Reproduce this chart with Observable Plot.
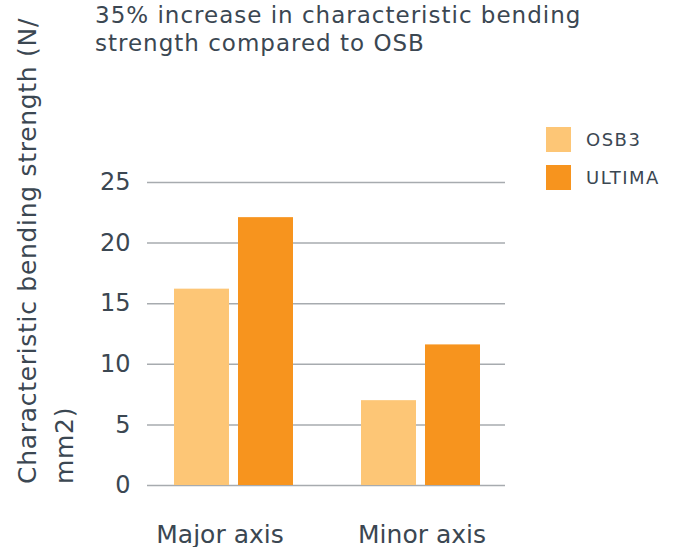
<!DOCTYPE html>
<html>
<head>
<meta charset="utf-8">
<script src="https://cdn.jsdelivr.net/npm/d3@7"></script>
<script src="https://cdn.jsdelivr.net/npm/@observablehq/plot@0.6"></script>
<style>
  html, body { margin: 0; padding: 0; background: #fff; }
  #wrap { position: relative; width: 677px; height: 547px; overflow: hidden; font-family: "DejaVu Sans", sans-serif; color: #3b4752; }
  #chart { position: absolute; left: 0; top: 0; }
  #title { position: absolute; left: 95px; top: 1px; font-size: 23px; letter-spacing: 1px; line-height: 28px; white-space: nowrap; }
  #ylabel { position: absolute; left: 9px; top: 484px; transform-origin: 0 0; transform: rotate(-90deg); font-size: 25px; letter-spacing: 0.7px; line-height: 37px; white-space: nowrap; }
  .leg { position: absolute; left: 546px; width: 25px; height: 25px; }
  .legt { position: absolute; left: 586px; font-size: 18px; letter-spacing: 1.5px; line-height: 25px; white-space: nowrap; }
</style>
</head>
<body>
<div id="wrap">
  <div id="chart"></div>
  <div id="title"></div>
  <div id="ylabel"></div>
  <div id="legend"></div>
</div>
<script>
const titleLines = ["35% increase in characteristic bending", "strength compared to OSB"];
const yLabelLines = ["Characteristic bending strength (N/", "mm2)"];
const categories = ["Major axis", "Minor axis"];
const seriesNames = ["OSB3", "ULTIMA"];
const osb3Values = [16.2, 7.0];
const ultimaValues = [22.1, 11.6];
const seriesColors = ["#fdc676", "#f7941e"];
const yTicks = [0, 5, 10, 15, 20, 25];

const data = [];
categories.forEach((c, i) => {
  data.push({axis: c, series: seriesNames[0], value: osb3Values[i]});
  data.push({axis: c, series: seriesNames[1], value: ultimaValues[i]});
});

const gridStyle = {stroke: "#a7abaf", strokeOpacity: 1, strokeWidth: 1.5};
const labelStyle = {fx: d => d, text: d => d, frameAnchor: "bottom", lineAnchor: "bottom", dy: 57, fontSize: 25, fill: "#3b4752", letterSpacing: 0.6};

const plot = Plot.plot({
  width: 677,
  height: 547,
  marginLeft: 140,
  marginRight: 163,
  marginTop: 182,
  marginBottom: 62,
  style: {fontFamily: "DejaVu Sans, sans-serif", fontSize: "24px", color: "#3b4752", background: "transparent", overflow: "visible"},
  fx: {domain: categories, padding: 0, label: null, axis: null},
  x: {domain: seriesNames, paddingInner: 0.14, paddingOuter: 0.53, axis: null},
  y: {domain: [0, 25], ticks: yTicks, label: null, tickSize: 0, tickPadding: 10},
  color: {domain: seriesNames, range: seriesColors},
  marks: [
    Plot.ruleY(yTicks, {...gridStyle, fx: () => categories[0], insetLeft: 7}),
    Plot.ruleY(yTicks, {...gridStyle, fx: () => categories[1], insetRight: 9}),
    Plot.barY(data, {fx: "axis", x: "series", y: "value", fill: "series"}),
    Plot.text([categories[0]], {...labelStyle, dx: -14}),
    Plot.text([categories[1]], {...labelStyle, dx: 1})
  ]
});
document.getElementById("chart").appendChild(plot);

document.getElementById("title").innerHTML = titleLines.join("<br>");
document.getElementById("ylabel").innerHTML = yLabelLines.join("<br>");
const leg = document.getElementById("legend");
seriesNames.forEach((s, i) => {
  const top = 127 + i * 38;
  const sq = document.createElement("div");
  sq.className = "leg"; sq.style.top = top + "px"; sq.style.background = seriesColors[i];
  const t = document.createElement("div");
  t.className = "legt"; t.style.top = top + "px"; t.textContent = s;
  leg.appendChild(sq); leg.appendChild(t);
});
</script>
</body>
</html>
